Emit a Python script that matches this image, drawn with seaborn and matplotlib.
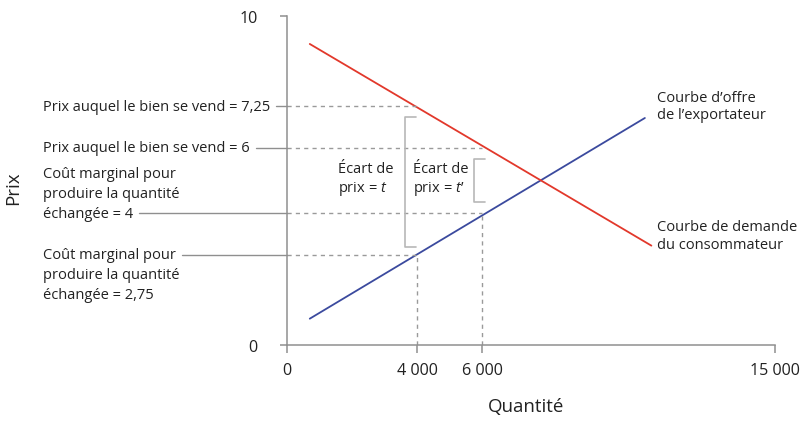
import matplotlib

matplotlib.use("Agg")
import matplotlib.pyplot as plt
import matplotlib.transforms as mtransforms
import pandas as pd
import seaborn as sns

# curves
supply_q = [700, 11000]
supply_p = [0.8, 6.9]
demand_q = [700, 11200]
demand_p = [9.15, 3.02]

# reference levels
price_levels = [7.25, 6, 4, 2.75]
level_qty = [4000, 6000, 6000, 4000]
level_labels = [
    ["Prix auquel le bien se vend = 7,25"],
    ["Prix auquel le bien se vend = 6"],
    ["Coût marginal pour", "produire la quantité", "échangée = 4"],
    ["Coût marginal pour", "produire la quantité", "échangée = 2,75"],
]
anchor_line = [0, 0, 2, 0]

x_ticks = [0, 4000, 6000, 15000]
x_tick_labels = ["0", "4 000", "6 000", "15 000"]
y_ticks = [0, 10]
y_tick_labels = ["0", "10"]

RED = "#e2382b"
BLUE = "#3b4a9e"
GREY = "#8f8f8f"
DASH = "#9a9a9a"
BRACKET = "#b8b8b8"
TEXT = "#222222"
FS = 10.5

sns.set_theme(style="white")
plt.rcParams["font.family"] = ["Open Sans", "DejaVu Sans"]
plt.rcParams["mathtext.fontset"] = "custom"
plt.rcParams["mathtext.it"] = "Open Sans:italic"
plt.rcParams["mathtext.rm"] = "Open Sans"

fig = plt.figure(figsize=(8.1, 4.39), dpi=100)
ax = fig.add_axes([287 / 810, 1 - 346 / 439, (775 - 287) / 810, (346 - 17) / 439])

sns.lineplot(data=pd.DataFrame({"q": supply_q, "p": supply_p}), x="q", y="p",
             ax=ax, color=BLUE, linewidth=1.3)
sns.lineplot(data=pd.DataFrame({"q": demand_q, "p": demand_p}), x="q", y="p",
             ax=ax, color=RED, linewidth=1.3)

ax.set_xlim(0, 15000)
ax.set_ylim(0, 10)
ax.set_xticks(x_ticks, x_tick_labels)
ax.set_yticks(y_ticks, y_tick_labels)
ax.tick_params(axis="both", direction="out", length=6, width=1.1, color=GREY,
               labelsize=11.6, labelcolor=TEXT, left=True, bottom=True)
ax.tick_params(axis="x", pad=6)
ax.tick_params(axis="y", length=5, pad=16)
ax.set_xlabel("")
ax.set_ylabel("")
sns.despine(ax=ax)
for side in ("left", "bottom"):
    ax.spines[side].set_color(GREY)
    ax.spines[side].set_linewidth(1.1)

# dashed guides
for p, q in zip(price_levels, level_qty):
    ax.plot([0, q], [p, p], color=DASH, linestyle=(0, (3, 3)), linewidth=1)
ax.plot([4000, 4000], [0, 2.75], color=DASH, linestyle=(0, (3, 3)), linewidth=1)
ax.plot([6000, 6000], [0, 4], color=DASH, linestyle=(0, (3, 3)), linewidth=1)

# left labels with solid leaders
blend = mtransforms.blended_transform_factory(fig.transFigure, ax.transData)
line_gap = 20  # px
fig.canvas.draw()
renderer = fig.canvas.get_renderer()
for p, lines, anchor in zip(price_levels, level_labels, anchor_line):
    anchor_txt = None
    for i, line in enumerate(lines):
        off = mtransforms.offset_copy(blend, fig=fig, y=-(i - anchor) * line_gap,
                                      units="dots")
        t = fig.text(43 / 810, p, line, transform=off, ha="left", va="center",
                     fontsize=FS, color=TEXT)
        if i == anchor:
            anchor_txt = t
    bb = anchor_txt.get_window_extent(renderer)
    x_start = ax.transData.inverted().transform((bb.x1 + 6, 0))[0]
    ax.plot([x_start, 0], [p, p], color=GREY, linewidth=1, clip_on=False)

# brackets
def bracket(x0, x1, y0, y1):
    ax.plot([x1, x0, x0, x1], [y1, y1, y0, y0], color=BRACKET, linewidth=1.2)

bracket(3630, 3950, 2.98, 6.93)
bracket(5760, 6090, 4.35, 5.65)
ax.text(1570, 5.05, "Écart de\nprix = $t$", ha="left", va="center",
        fontsize=FS, color=TEXT, linespacing=1.2)
ax.text(3880, 5.05, "Écart de\nprix = $t$’", ha="left", va="center",
        fontsize=FS, color=TEXT, linespacing=1.2)

# curve labels
ax.text(11375, 7.26, "Courbe d’offre\nde l’exportateur", ha="left",
        va="center", fontsize=FS, color=TEXT, linespacing=1.2, clip_on=False)
ax.text(11375, 3.33, "Courbe de demande\ndu consommateur", ha="left",
        va="center", fontsize=FS, color=TEXT, linespacing=1.2, clip_on=False)

# axis titles
fig.text(13 / 810, 1 - 188 / 439, "Prix", rotation=90, ha="center",
         va="center", fontsize=13.5, color=TEXT)
fig.text(526 / 810, 1 - 407 / 439, "Quantité", ha="center", va="center",
         fontsize=13.5, color=TEXT)

fig.savefig("out.png", dpi=100)
